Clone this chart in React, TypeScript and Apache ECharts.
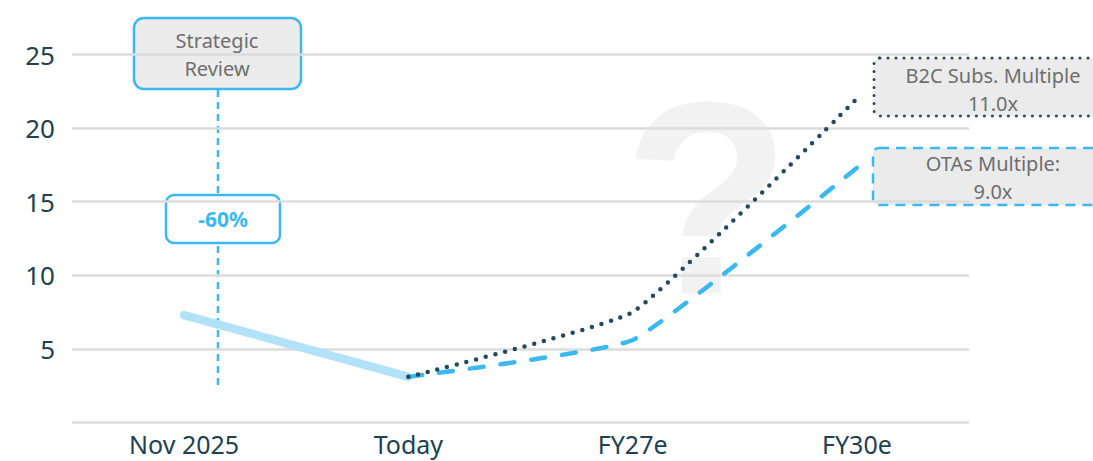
import React, { useEffect, useRef } from "react";
import * as echarts from "echarts";

const categories = ["Nov 2025", "Today", "FY27e", "FY30e"];
const historical = [7.3, 3.1, null, null];
const b2cSubs = [null, 3.1, 7.5, 22.0];
const otas = [null, 3.1, 5.6, 17.3];
const yTicks = { min: 0, max: 25, interval: 5 };

const BLUE = "#3cb8f0";
const DARK = "#234a5c";
const LABEL = "#22404f";
const FONT = "'Noto Sans', sans-serif";

export default function App() {
  const ref = useRef<HTMLDivElement>(null);
  useEffect(() => {
    document.body.style.margin = "0";
    const chart = echarts.init(ref.current!, null, { renderer: "svg" });
    chart.setOption({
      animation: false,
      backgroundColor: "#ffffff",
      grid: { left: 72, right: 124, top: 54.5, bottom: 38.5 },
      xAxis: {
        type: "category",
        data: categories,
        boundaryGap: true,
        axisLine: { show: false },
        axisTick: { show: false },
        axisLabel: { color: LABEL, fontSize: 25, lineHeight: 22, fontFamily: FONT, margin: 10 },
      },
      yAxis: {
        type: "value",
        min: yTicks.min,
        max: yTicks.max,
        interval: yTicks.interval,
        axisLine: { show: false },
        axisTick: { show: false },
        axisLabel: {
          color: LABEL,
          fontSize: 26,
          fontFamily: FONT,
          margin: 17,
          showMinLabel: false,
          formatter: (v: number) => (v === 0 ? "" : String(v)),
        },
        splitLine: { lineStyle: { color: "#dcdcdc", width: 2.5 } },
      },
      series: [
        {
          type: "line",
          data: historical,
          showSymbol: false,
          lineStyle: { color: "#b2e2f8", width: 8.5, cap: "round" },
          z: 3,
        },
        {
          type: "line",
          data: otas,
          showSymbol: false,
          smooth: 0.12,
          lineStyle: { color: BLUE, width: 4.5, type: [14, 17], cap: "round" },
          z: 4,
        },
        {
          type: "line",
          data: b2cSubs,
          showSymbol: false,
          smooth: 0.12,
          lineStyle: { color: DARK, width: 4.5, type: [0, 10], cap: "round" },
          z: 5,
        },
      ],
      graphic: [
        {
          type: "text",
          x: 707,
          y: 198,
          z: -10,
          silent: true,
          style: {
            text: "?",
            fontSize: 275,
            fontWeight: "bold",
            fontFamily: "'Liberation Sans', sans-serif",
            fill: "rgba(0,0,0,0.05)",
            textAlign: "center",
            textVerticalAlign: "middle",
          },
        },
        {
          type: "line",
          shape: { x1: 218, y1: 90, x2: 218, y2: 386 },
          style: { stroke: BLUE, lineWidth: 2.5, lineDash: [7, 5] },
        },
        {
          type: "rect",
          shape: { x: 134, y: 18, width: 167, height: 71, r: 10 },
          style: { fill: "#ececec", stroke: BLUE, lineWidth: 2.5 },
        },
        {
          type: "text",
          x: 217,
          y: 54,
          style: {
            text: "Strategic\nReview",
            fontSize: 20,
            lineHeight: 28,
            fontFamily: FONT,
            fill: "#6e6e6e",
            textAlign: "center",
            textVerticalAlign: "middle",
          },
        },
        {
          type: "rect",
          shape: { x: 166, y: 195, width: 114, height: 48, r: 8 },
          style: { fill: "#ffffff", stroke: BLUE, lineWidth: 2.5 },
        },
        {
          type: "text",
          x: 223,
          y: 219,
          style: {
            text: "-60%",
            fontSize: 21,
            fontWeight: "bold",
            fontFamily: FONT,
            fill: BLUE,
            textAlign: "center",
            textVerticalAlign: "middle",
          },
        },
        {
          type: "rect",
          shape: { x: 874, y: 58, width: 240, height: 58, r: 6 },
          style: { fill: "#ebebeb", stroke: DARK, lineWidth: 3, lineDash: [0, 8], lineCap: "round" },
        },
        {
          type: "text",
          x: 993,
          y: 89,
          style: {
            text: "B2C Subs. Multiple\n11.0x",
            fontSize: 20,
            lineHeight: 28,
            fontFamily: FONT,
            fill: "#6e6e6e",
            textAlign: "center",
            textVerticalAlign: "middle",
          },
        },
        {
          type: "rect",
          shape: { x: 873, y: 148, width: 240, height: 57, r: 6 },
          style: { fill: "#ebebeb", stroke: BLUE, lineWidth: 2.5, lineDash: [10, 7] },
        },
        {
          type: "text",
          x: 993,
          y: 177,
          style: {
            text: "OTAs Multiple:\n9.0x",
            fontSize: 20,
            lineHeight: 28,
            fontFamily: FONT,
            fill: "#6e6e6e",
            textAlign: "center",
            textVerticalAlign: "middle",
          },
        },
      ],
    });
    return () => chart.dispose();
  }, []);
  return <div ref={ref} style={{ width: 1093, height: 461 }} />;
}
